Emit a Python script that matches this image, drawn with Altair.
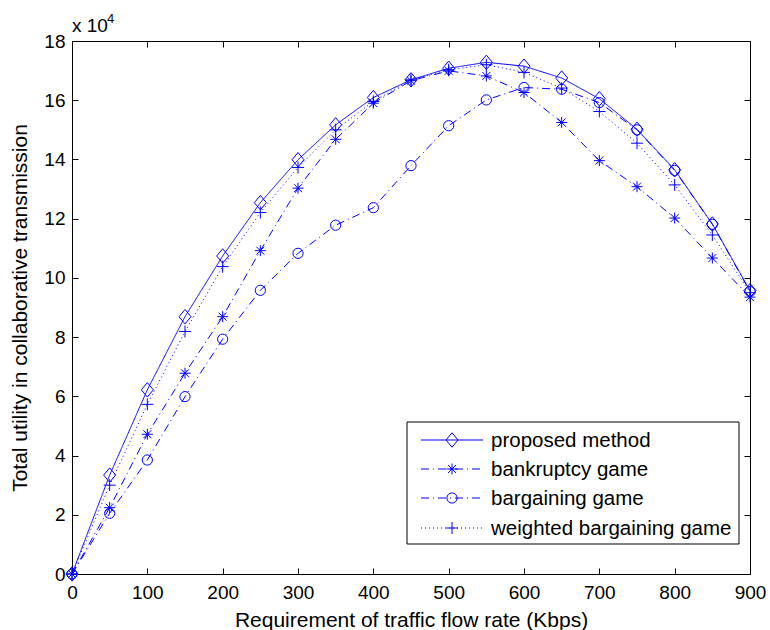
import altair as alt
import pandas as pd

# ---- data (utility in units of 10^4) ----
rates = [0, 50, 100, 150, 200, 250, 300, 350, 400, 450, 500, 550, 600, 650, 700, 750, 800, 850, 900]
proposed = [0, 3.34, 6.22, 8.69, 10.74, 12.54, 13.99, 15.17, 16.09, 16.69, 17.08, 17.28, 17.15, 16.75, 16.05, 15.02, 13.65, 11.82, 9.57]
bankruptcy = [0, 2.24, 4.72, 6.78, 8.69, 10.92, 13.03, 14.68, 15.90, 16.66, 16.99, 16.82, 16.26, 15.25, 13.96, 13.08, 12.02, 10.67, 9.35]
bargaining = [0, 2.05, 3.85, 5.99, 7.93, 9.58, 10.83, 11.78, 12.37, 13.79, 15.14, 16.01, 16.43, 16.37, 15.92, 15.00, 13.63, 11.81, 9.54]
weighted = [0, 3.00, 5.73, 8.19, 10.38, 12.21, 13.73, 15.00, 15.96, 16.69, 17.03, 17.20, 16.94, 16.41, 15.62, 14.55, 13.14, 11.45, 9.50]
names = ["proposed method", "bankruptcy game", "bargaining game", "weighted bargaining game"]
x_ticks = [0, 100, 200, 300, 400, 500, 600, 700, 800, 900]
y_ticks = [0, 2, 4, 6, 8, 10, 12, 14, 16, 18]

series_values = [proposed, bankruptcy, bargaining, weighted]

BLUE = "#0000ff"
FONT = "Liberation Sans"
DIAMOND = "M0,-1.2L1,0L0,1.2L-1,0Z"
ASTER = "M-1,0L1,0M0,-1L0,1M-0.72,-0.72L0.72,0.72M-0.72,0.72L0.72,-0.72"
PLUS = "M-1,0L1,0M0,-1L0,1"
styles = [
    dict(dash=[1, 0], shape=DIAMOND, size=144),
    dict(dash=[8, 4, 1, 4], shape=ASTER, size=121),
    dict(dash=[8, 4, 1, 4], shape="circle", size=104),
    dict(dash=[1, 3], shape=PLUS, size=144),
]

rows = []
for name, vals in zip(names, series_values):
    for r, v in zip(rates, vals):
        rows.append({"rate": r, "utility": v, "series": name})
df = pd.DataFrame(rows)

xscale = alt.Scale(domain=[0, 900], nice=False, zero=False)
yscale = alt.Scale(domain=[0, 18], nice=False, zero=False)

common_axis = dict(offset=-6, tickSize=6, domain=False, grid=False, tickColor="black",
                   labelColor="black", labelFont=FONT, labelFontSize=19, titleFont=FONT,
                   titleFontSize=21, titleFontWeight="normal", titleColor="black",
                   labelFlush=False, labelOverlap=False)

x_bottom = alt.X("rate:Q", scale=xscale, axis=alt.Axis(
    orient="bottom", values=x_ticks, title="Requirement of traffic flow rate (Kbps)",
    labelPadding=9, titlePadding=7, **common_axis))
y_left = alt.Y("utility:Q", scale=yscale, axis=alt.Axis(
    orient="left", values=y_ticks, title="Total utility in collaborative transmission",
    labelPadding=7, titlePadding=13, **common_axis))
x_top = alt.X("rate:Q", scale=xscale, axis=alt.Axis(
    orient="top", values=x_ticks, labels=False, title="", **common_axis))
y_right = alt.Y("utility:Q", scale=yscale, axis=alt.Axis(
    orient="right", values=y_ticks, labels=False, title="", **common_axis))

layers = []
# invisible layer that carries the top / right tick axes of the box
layers.append(alt.Chart(df).mark_point(opacity=0).encode(x=x_top, y=y_right))

for i, (name, st) in enumerate(zip(names, styles)):
    sub = df[df["series"] == name]
    if i == 0:
        xe, ye = x_bottom, y_left
    else:
        xe = alt.X("rate:Q", scale=xscale, axis=None)
        ye = alt.Y("utility:Q", scale=yscale, axis=None)
    layers.append(alt.Chart(sub).mark_line(color=BLUE, strokeWidth=1, strokeDash=st["dash"]).encode(x=xe, y=ye))

for name, st in zip(names, styles):
    sub = df[df["series"] == name]
    layers.append(alt.Chart(sub).mark_point(shape=st["shape"], size=st["size"], filled=False,
                                            color=BLUE, strokeWidth=1, opacity=1).encode(
        x=alt.X("rate:Q", scale=xscale, axis=None),
        y=alt.Y("utility:Q", scale=yscale, axis=None)))

# ---- legend (manual, MATLAB style) ----
leg_left, leg_right, leg_top, leg_bottom = 335, 667, 381, 503
row_y = [399, 428, 457, 487]
layers.append(alt.Chart(pd.DataFrame({"k": [0]})).mark_rect(fill="white", stroke="black", strokeWidth=1).encode(
    x=alt.value(leg_left), x2=alt.value(leg_right), y=alt.value(leg_top), y2=alt.value(leg_bottom)))
for name, st, yy in zip(names, styles, row_y):
    one = pd.DataFrame({"name": [name]})
    layers.append(alt.Chart(one).mark_rule(color=BLUE, strokeWidth=1, strokeDash=st["dash"]).encode(
        x=alt.value(349), x2=alt.value(411), y=alt.value(yy)))
    layers.append(alt.Chart(one).mark_point(shape=st["shape"], size=st["size"], filled=False,
                                            color=BLUE, strokeWidth=1, opacity=1).encode(
        x=alt.value(380), y=alt.value(yy)))
    layers.append(alt.Chart(one).mark_text(align="left", baseline="middle", font=FONT, fontSize=20.5,
                                           color="black").encode(
        x=alt.value(419), y=alt.value(yy + 1), text="name:N"))

# ---- exponent label ----
layers.append(alt.Chart(pd.DataFrame({"t": ["x 10"]})).mark_text(
    align="left", baseline="alphabetic", font=FONT, fontSize=19, color="black").encode(
    x=alt.value(0), y=alt.value(-9), text="t:N"))
layers.append(alt.Chart(pd.DataFrame({"t": ["4"]})).mark_text(
    align="left", baseline="alphabetic", font=FONT, fontSize=13, color="black").encode(
    x=alt.value(35), y=alt.value(-18), text="t:N"))

chart = alt.layer(*layers).resolve_axis(x="independent", y="independent").properties(
    width=678, height=533,
    autosize=alt.AutoSizeParams(type="none"),
    padding={"left": 72, "top": 41, "right": 20, "bottom": 56},
    background="white",
).configure_view(stroke="black", strokeWidth=1)

chart.save("out.html", embed_options={"renderer": "svg", "actions": False})
